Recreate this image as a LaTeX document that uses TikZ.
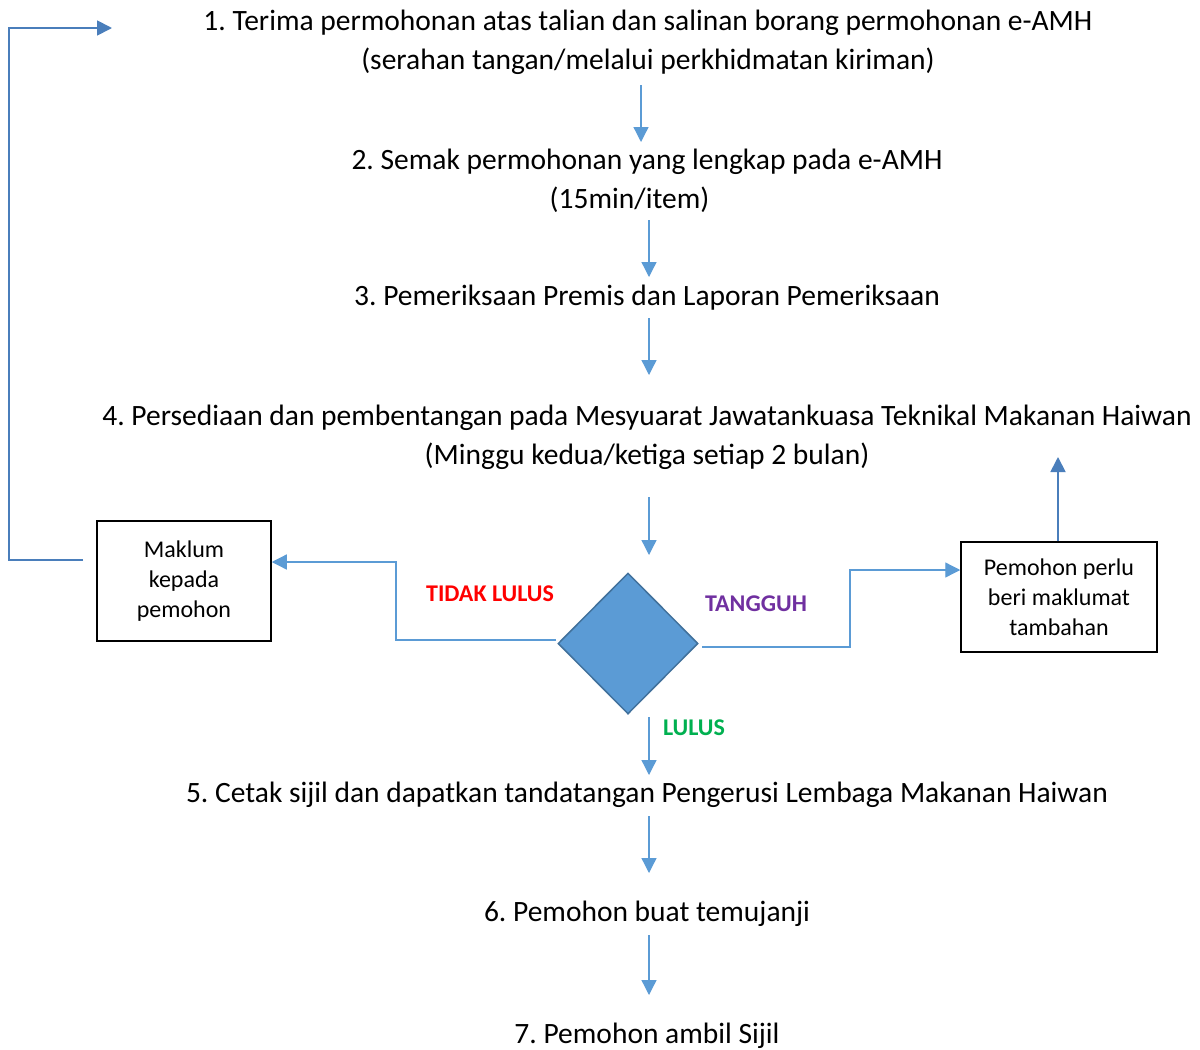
\documentclass[tikz,border=0pt]{standalone}
\usepackage{fontspec}
\setmainfont{Carlito}
\usetikzlibrary{arrows.meta,shapes.geometric}
\definecolor{arrowblue}{HTML}{5B9BD5}
\definecolor{loopblue}{HTML}{4A7EBB}
\definecolor{diafill}{HTML}{5B9BD5}
\definecolor{diaedge}{HTML}{41719C}
\definecolor{lblred}{HTML}{FF0000}
\definecolor{lblpurple}{HTML}{7030A0}
\definecolor{lblgreen}{HTML}{00B050}
\frenchspacing
\tikzset{
  steptext/.style={inner sep=0pt, align=center, font=\fontsize{29.5}{39}\selectfont},
  boxnode/.style={draw=black, line width=1.5pt, inner sep=0pt, align=center, font=\fontsize{24}{30}\selectfont},
  lbl/.style={inner sep=0pt, font=\fontsize{24}{28}\selectfont\bfseries},
  flowarrow/.style={draw=arrowblue, line width=1.3pt, -{Triangle[length=15pt,width=15pt]}},
  looparrow/.style={draw=loopblue, line width=1.8pt, -{Triangle[length=15pt,width=15pt]}},
}
\begin{document}
\begin{tikzpicture}[x=1pt,y=-1pt]
\useasboundingbox[fill=white] (0,0) rectangle (1200,1050);

% step texts
\node[steptext] (t1) at (648,42.5) {1. Terima permohonan atas talian dan salinan borang permohonan e-AMH\\(serahan tangan/melalui perkhidmatan kiriman)};
\node[steptext] (t2) at (647,180.5) {2. Semak permohonan yang lengkap pada e-AMH\\\hspace*{-35pt}(15min/item)};
\node[steptext] (t3) at (647,298) {3. Pemeriksaan Premis dan Laporan Pemeriksaan};
\node[steptext] (t4) at (647,437) {4. Persediaan dan pembentangan pada Mesyuarat Jawatankuasa Teknikal Makanan Haiwan\\(Minggu kedua/ketiga setiap 2 bulan)};
\node[steptext] (t5) at (647,795) {5. Cetak sijil dan dapatkan tandatangan Pengerusi Lembaga Makanan Haiwan};
\node[steptext] (t6) at (647,914) {6. Pemohon buat temujanji};
\node[steptext] (t7) at (647,1036) {7. Pemohon ambil Sijil};

% decision
\node[diamond, aspect=1, inner sep=0pt, minimum width=140, minimum height=141, fill=diafill, draw=diaedge, line width=1.5pt] (dec) at (628,643.5) {};

% side boxes
\node[boxnode, minimum width=174, minimum height=120] (mak) at (184,581) {Maklum\\kepada\\pemohon};
\node[boxnode, minimum width=196, minimum height=110] (pem) at (1059,597) {Pemohon perlu\\beri maklumat\\tambahan};

% labels
\node[lbl, text=lblred] (ltidak) at (490,594) {TIDAK LULUS};
\node[lbl, text=lblpurple] (ltangguh) at (756,604) {TANGGUH};
\node[lbl, text=lblgreen] (llulus) at (694,728) {LULUS};

% arrow coordinates
\coordinate (a1s) at (641,85);  \coordinate (a1e) at (641,142);
\coordinate (a2s) at (649,220); \coordinate (a2e) at (649,277);
\coordinate (a3s) at (649,318); \coordinate (a3e) at (649,375);
\coordinate (a4s) at (649,497); \coordinate (a4e) at (649,555);
\coordinate (a5s) at (649,717); \coordinate (a5e) at (649,775);
\coordinate (a6s) at (649,816); \coordinate (a6e) at (649,873);
\coordinate (a7s) at (649,935); \coordinate (a7e) at (649,995);

\draw[flowarrow] (a1s) -- (a1e);
\draw[flowarrow] (a2s) -- (a2e);
\draw[flowarrow] (a3s) -- (a3e);
\draw[flowarrow] (a4s) -- (a4e);
\draw[flowarrow] (a5s) -- (a5e);
\draw[flowarrow] (a6s) -- (a6e);
\draw[flowarrow] (a7s) -- (a7e);

% tidak lulus branch
\coordinate (tlStart) at (556,640);
\coordinate (tlBend1) at (396,640);
\coordinate (tlBend2) at (396,562);
\draw[flowarrow] (tlStart) -- (tlBend1) -- (tlBend2) -- (mak.east |- tlBend2);

% tangguh branch
\coordinate (tgStart) at (702,647);
\coordinate (tgBend1) at (850,647);
\coordinate (tgBend2) at (850,570);
\draw[flowarrow] (tgStart) -- (tgBend1) -- (tgBend2) -- (pem.west |- tgBend2);

% up arrow from pemohon perlu box
\coordinate (upEnd) at (1058,457);
\draw[looparrow] (pem.north -| upEnd) -- (upEnd);

% feedback loop to step 1
\coordinate (lpStart) at (83,560);
\coordinate (lpB1) at (9,560);
\coordinate (lpB2) at (9,28);
\coordinate (lpEnd) at (112,28);
\draw[looparrow] (lpStart) -- (lpB1) -- (lpB2) -- (lpEnd);
\end{tikzpicture}
\end{document}
